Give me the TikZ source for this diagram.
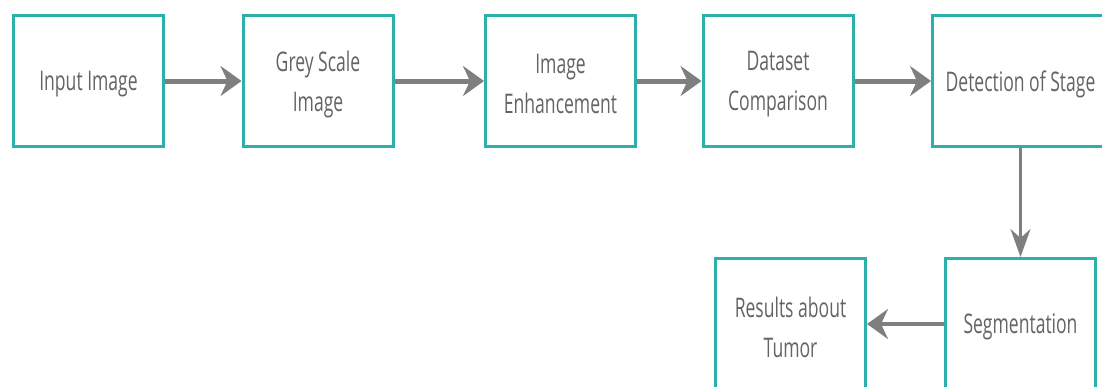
\documentclass[tikz,border=0pt]{standalone}
\usepackage{fontspec}
\setmainfont[FakeStretch=0.65]{Open Sans}
\usetikzlibrary{arrows.meta}
\definecolor{teal1}{HTML}{2BB1AA}
\definecolor{arrowgray}{HTML}{7F7F7F}
\definecolor{textgray}{HTML}{646464}
\tikzset{
  x=1pt, y=-1pt,
  box/.style={draw=teal1, line width=3pt, fill=white, minimum width=150pt, minimum height=131pt, inner sep=0pt},
  lbl/.style={align=center, text=textgray, inner sep=0pt,
    font=\fontsize{27pt}{40pt}\selectfont},
  flow/.style={draw=arrowgray, line width=5pt,
    -{Stealth[length=21pt, width=30pt, inset=7pt]}},
  vflow/.style={draw=arrowgray, line width=3pt,
    -{Stealth[length=28pt, width=20pt, inset=9pt]}}
}
\begin{document}
\begin{tikzpicture}
\useasboundingbox (0,0) rectangle (1102,386);
\clip (0,0) rectangle (1102,386);
\node[box] (in) at (88.5,81) {};
\node[box] (grey) at (318,81) {};
\node[box] (enh) at (560.5,81) {};
\node[box] (data) at (778,81) {};
\node[box, minimum width=176pt] (det) at (1020.5,81) {};
\node[box] (seg) at (1020.5,324) {};
\node[box] (res) at (790.5,324) {};
\node[lbl] (tin) at ([yshift=-3pt]in.center) {Input Image};
\node[lbl] (tgrey) at ([yshift=-3pt]grey.center) {Grey Scale\\Image};
\node[lbl] (tenh) at ([yshift=-3pt]enh.center) {Image\\Enhancement};
\node[lbl] (tdata) at ([yshift=-3pt]data.center) {Dataset\\Comparison};
\node[lbl] (tdet) at ([yshift=-3pt]det.center) {Detection of Stage};
\node[lbl] (tseg) at ([yshift=-3pt]seg.center) {Segmentation};
\node[lbl] (tres) at ([yshift=-3pt]res.center) {Results about\\Tumor};
\draw[flow] (in) -- (grey);
\draw[flow] (grey) -- (enh);
\draw[flow] (enh) -- (data);
\draw[flow] (data) -- (det);
\draw[vflow] (det) -- (seg);
\draw[flow, line width=4pt] (seg) -- (res);
\end{tikzpicture}
\end{document}
